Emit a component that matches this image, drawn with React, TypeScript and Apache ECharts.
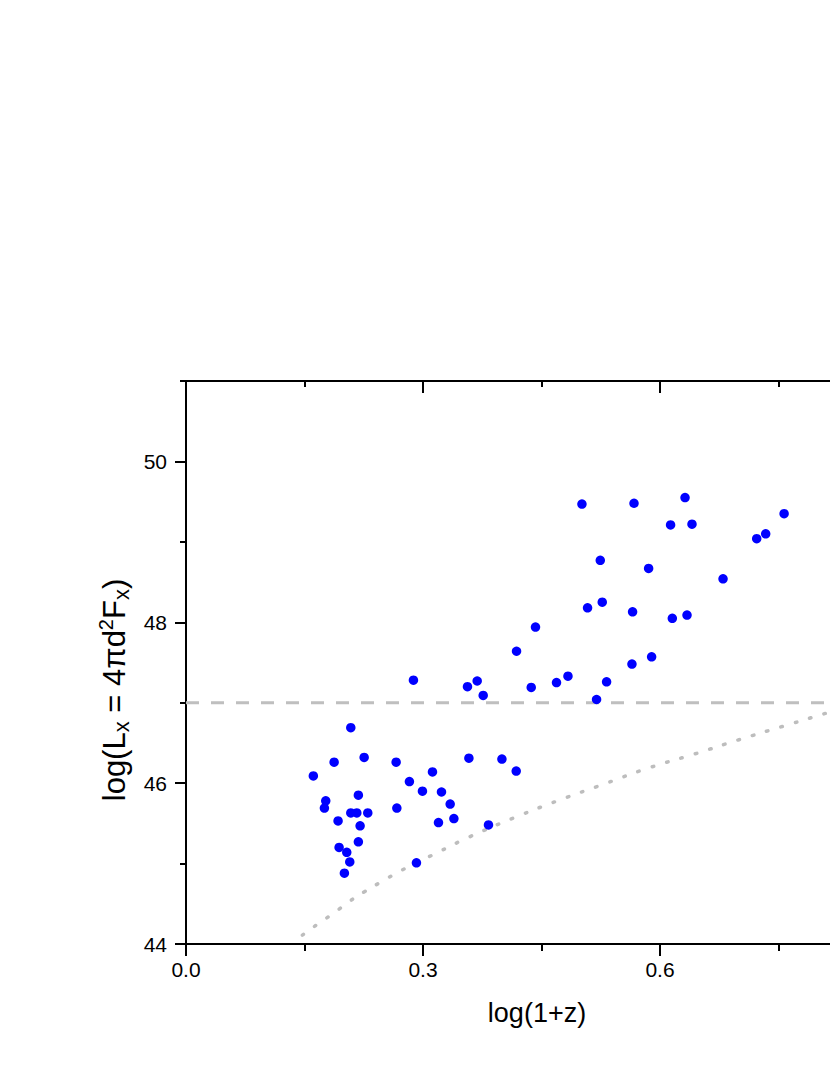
import React, { useEffect, useRef } from "react";
import * as echarts from "echarts";

// Low-luminosity group (log(1+z), log Lx)
const lowX = [0.1612, 0.1752, 0.1769, 0.1875, 0.1925, 0.1938, 0.2005, 0.2035, 0.2073, 0.2086, 0.2086, 0.2162, 0.2182, 0.2182, 0.2204, 0.2255, 0.2301, 0.266, 0.2669, 0.2828, 0.2917, 0.2993, 0.312, 0.3196, 0.3234, 0.3344, 0.3391, 0.3581, 0.3829, 0.3999, 0.418];
const lowY = [46.09, 45.69, 45.78, 46.26, 45.53, 45.2, 44.88, 45.14, 45.02, 46.69, 45.63, 45.63, 45.85, 45.27, 45.47, 46.32, 45.63, 46.26, 45.69, 46.02, 45.01, 45.9, 46.14, 45.51, 45.89, 45.74, 45.56, 46.31, 45.48, 46.3, 46.15];

// High-luminosity group
const highX = [0.2879, 0.3563, 0.3686, 0.3762, 0.4184, 0.437, 0.4424, 0.469, 0.4835, 0.5012, 0.5083, 0.5197, 0.5244, 0.5269, 0.5324, 0.5645, 0.5653, 0.5671, 0.5856, 0.5894, 0.6134, 0.6156, 0.6317, 0.6342, 0.6405, 0.6798, 0.7224, 0.7338, 0.7571];
const highY = [47.28, 47.2, 47.27, 47.09, 47.64, 47.19, 47.94, 47.25, 47.33, 49.47, 48.18, 47.04, 48.77, 48.25, 47.26, 47.48, 48.13, 49.48, 48.67, 47.57, 49.21, 48.05, 49.55, 48.09, 49.22, 48.54, 49.04, 49.1, 49.35];

// Flux-limit curve (dotted)
const limitX = [0.1473, 0.1685, 0.1879, 0.2069, 0.2259, 0.2449, 0.2643, 0.2816, 0.3209, 0.3585, 0.4155, 0.4729, 0.5295, 0.586, 0.643, 0.7, 0.7566, 0.8136, 0.83];
const limitY = [44.11, 44.26, 44.39, 44.53, 44.65, 44.76, 44.87, 44.96, 45.15, 45.33, 45.57, 45.79, 45.99, 46.19, 46.36, 46.54, 46.71, 46.88, 46.93];

// Threshold (dashed)
const thresholdX = [0, 0.9];
const thresholdY = [47, 47];

const xMajor = [0, 0.3, 0.6, 0.9];
const xLabels = [0, 0.3, 0.6];
const xMinor = [0.15, 0.45, 0.75];
const yMajor = [44, 46, 48, 50];
const yMinor = [45, 47, 49, 51];

const FONT = "'Liberation Sans', Arial, sans-serif";

export default function App() {
  const ref = useRef<HTMLDivElement>(null);

  useEffect(() => {
    if (!ref.current) return;
    const chart = echarts.init(ref.current, undefined, { renderer: "svg" });

    const black = { color: "#000", width: 2 };
    const xBase = { type: "value", min: 0, max: 0.9, splitLine: { show: false } };
    const yBase = { type: "value", min: 44, max: 51, splitLine: { show: false } };

    const zip = (a: number[], b: number[]) => a.map((v, i) => [v, b[i]]);

    chart.setOption({
      animation: false,
      backgroundColor: "#fff",
      grid: { left: 186, top: 381, width: 711, height: 563, containLabel: false },
      xAxis: [
        {
          ...xBase,
          position: "bottom",
          axisLine: { show: true, onZero: false, lineStyle: black },
          axisTick: { show: true, inside: false, length: 12, lineStyle: black, customValues: xMajor },
          axisLabel: {
            show: true,
            customValues: xLabels,
            formatter: (v: number) => v.toFixed(1),
            fontSize: 21,
            color: "#000",
            fontFamily: FONT,
            margin: 15,
          },
        },
        {
          ...xBase,
          position: "bottom",
          axisLine: { show: false, onZero: false },
          axisTick: { show: true, inside: false, length: 7, lineStyle: black, customValues: xMinor },
          axisLabel: { show: false },
        },
        {
          ...xBase,
          position: "top",
          axisLine: { show: true, onZero: false, lineStyle: black },
          axisTick: { show: true, inside: true, length: 12, lineStyle: black, customValues: xMajor },
          axisLabel: { show: false },
        },
        {
          ...xBase,
          position: "top",
          axisLine: { show: false, onZero: false },
          axisTick: { show: true, inside: true, length: 6, lineStyle: black, customValues: xMinor },
          axisLabel: { show: false },
        },
      ],
      yAxis: [
        {
          ...yBase,
          position: "left",
          axisLine: { show: true, onZero: false, lineStyle: black },
          axisTick: { show: true, inside: false, length: 11, lineStyle: black, customValues: yMajor },
          axisLabel: {
            show: true,
            customValues: yMajor,
            fontSize: 21,
            color: "#000",
            fontFamily: FONT,
            margin: 19,
          },
        },
        {
          ...yBase,
          position: "left",
          axisLine: { show: false, onZero: false },
          axisTick: { show: true, inside: false, length: 6, lineStyle: black, customValues: yMinor },
          axisLabel: { show: false },
        },
        {
          ...yBase,
          position: "right",
          axisLine: { show: true, onZero: false, lineStyle: black },
          axisTick: { show: true, inside: true, length: 11, lineStyle: black, customValues: yMajor },
          axisLabel: { show: false },
        },
      ],
      series: [
        {
          type: "line",
          xAxisIndex: 0,
          yAxisIndex: 0,
          data: zip(thresholdX, thresholdY),
          showSymbol: false,
          symbol: "none",
          lineStyle: { color: "#bfbfbf", width: 3, type: [13, 12] },
          z: 1,
          silent: true,
        },
        {
          type: "line",
          xAxisIndex: 0,
          yAxisIndex: 0,
          data: zip(limitX, limitY),
          smooth: true,
          showSymbol: false,
          symbol: "none",
          lineStyle: { color: "#bdbdbd", width: 3.5, type: [1.5, 13.5], cap: "round" },
          z: 1,
          silent: true,
        },
        {
          type: "scatter",
          xAxisIndex: 0,
          yAxisIndex: 0,
          data: zip(lowX, lowY),
          symbol: "circle",
          symbolSize: 9.5,
          itemStyle: { color: "#0000ff", opacity: 1 },
          z: 5,
        },
        {
          type: "scatter",
          xAxisIndex: 0,
          yAxisIndex: 0,
          data: zip(highX, highY),
          symbol: "circle",
          symbolSize: 9.5,
          itemStyle: { color: "#0000ff", opacity: 1 },
          z: 5,
        },
      ],
      graphic: [
        {
          type: "text",
          x: 537,
          y: 1013,
          style: {
            text: "log(1+z)",
            fontSize: 27,
            fontFamily: FONT,
            fill: "#000",
            textAlign: "center",
            textVerticalAlign: "middle",
          },
        },
        {
          type: "text",
          x: 114,
          y: 690,
          rotation: Math.PI / 2,
          style: {
            text: "{a|log(L}{s|x}{a| = 4πd}{p|2}{a|F}{s|x}{a|)}",
            fontFamily: FONT,
            fill: "#000",
            textAlign: "center",
            textVerticalAlign: "middle",
            rich: {
              a: { fontSize: 31, lineHeight: 36, fontFamily: FONT, fill: "#000" },
              s: { fontSize: 22, lineHeight: 22, verticalAlign: "bottom", fontFamily: FONT, fill: "#000" },
              p: { fontSize: 20, lineHeight: 20, verticalAlign: "top", fontFamily: FONT, fill: "#000" },
            },
          },
        },
      ],
    });

    return () => chart.dispose();
  }, []);

  return (
    <div
      style={{
        position: "fixed",
        left: 0,
        top: 0,
        width: 830,
        height: 1075,
        overflow: "hidden",
        background: "#fff",
      }}
    >
      <div ref={ref} style={{ width: 1000, height: 1075 }} />
    </div>
  );
}
